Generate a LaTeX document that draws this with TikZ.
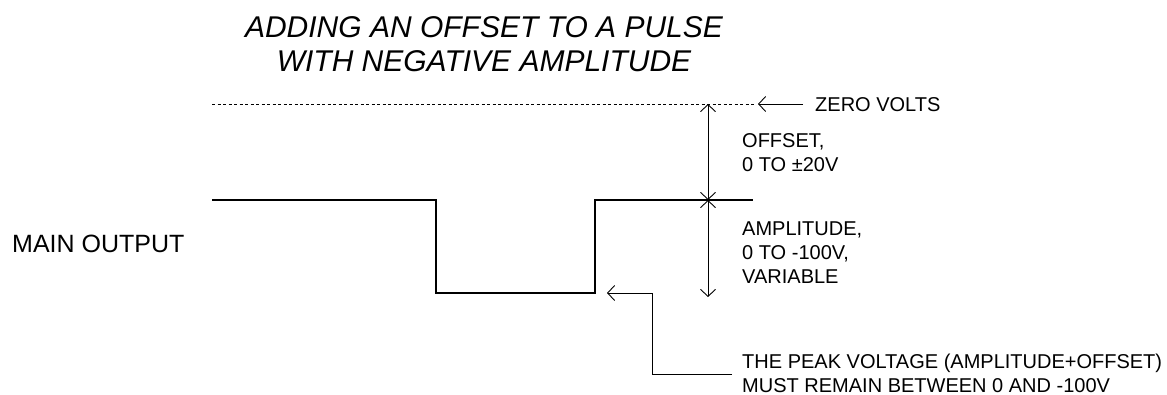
\documentclass[tikz,border=0pt]{standalone}
\usepackage{fontspec}
\setmainfont{Liberation Sans}
\usetikzlibrary{arrows.meta}
\begin{document}
\begin{tikzpicture}[x=1pt,y=-1pt,
  lbl/.style={inner sep=0pt,anchor=west,align=left,font=\fontsize{20}{24}\selectfont},
  ttl/.style={inner sep=0pt,align=center,font=\fontsize{30}{33.5}\selectfont\itshape},
  thin/.style={line width=0.9pt},
  pulse/.style={line width=2.6pt,line join=miter},
  tip/.style={-{Straight Barb[length=7pt,width=15pt,line width=0.9pt]}},
  dtip/.style={{Straight Barb[length=7pt,width=15pt,line width=0.9pt]}-{Straight Barb[length=7pt,width=15pt,line width=0.9pt]}}]
\useasboundingbox (0,0) rectangle (1167,395);
% title
\node[ttl] (title) at (484,44) {ADDING AN OFFSET TO A PULSE\\WITH NEGATIVE AMPLITUDE};
% zero line
\coordinate (z0) at (212,104);
\coordinate (z1) at (755,104);
\draw[dash pattern=on 3pt off 2.5pt,line width=0.6pt] (z0) -- (z1);
\node[lbl] (zero) at (815,105) {ZERO VOLTS};
\coordinate (zt) at (758,104);
\draw[thin,tip] (zero.west) ++(-12,-1) coordinate (zs) (zs) -- (zt);
% pulse
\coordinate (p0) at (212,200);
\coordinate (p1) at (436,200);
\coordinate (p2) at (436,293);
\coordinate (p3) at (595,293);
\coordinate (p4) at (595,200);
\coordinate (p5) at (753,200);
\draw[pulse] (p0) -- (p1) -- (p2) -- (p3) -- (p4) -- (p5);
% dimension arrows
\coordinate (a0) at (708,104);
\coordinate (a1) at (708,200);
\coordinate (a2) at (708,297);
\draw[thin,dtip] (a0) -- (a1);
\draw[thin,dtip] (a1) -- (a2);
% labels
\node[lbl] (off) at (742,153) {OFFSET,\\0 TO ±20V};
\node[lbl] (amp) at (742,253) {AMPLITUDE,\\0 TO -100V,\\VARIABLE};
\node[lbl,font=\fontsize{25}{28}\selectfont] (main) at (12,244) {MAIN OUTPUT};
% peak callout
\node[lbl] (peak) at (742,373) {THE PEAK VOLTAGE (AMPLITUDE+OFFSET)\\MUST REMAIN BETWEEN 0 AND -100V};
\coordinate (c1) at (652,374);
\coordinate (c2) at (652,293);
\coordinate (c3) at (607,293);
\draw[thin,tip] (peak.west) ++(-10,1) coordinate (cs) (cs) -- (c1) -- (c2) -- (c3);
\end{tikzpicture}
\end{document}
